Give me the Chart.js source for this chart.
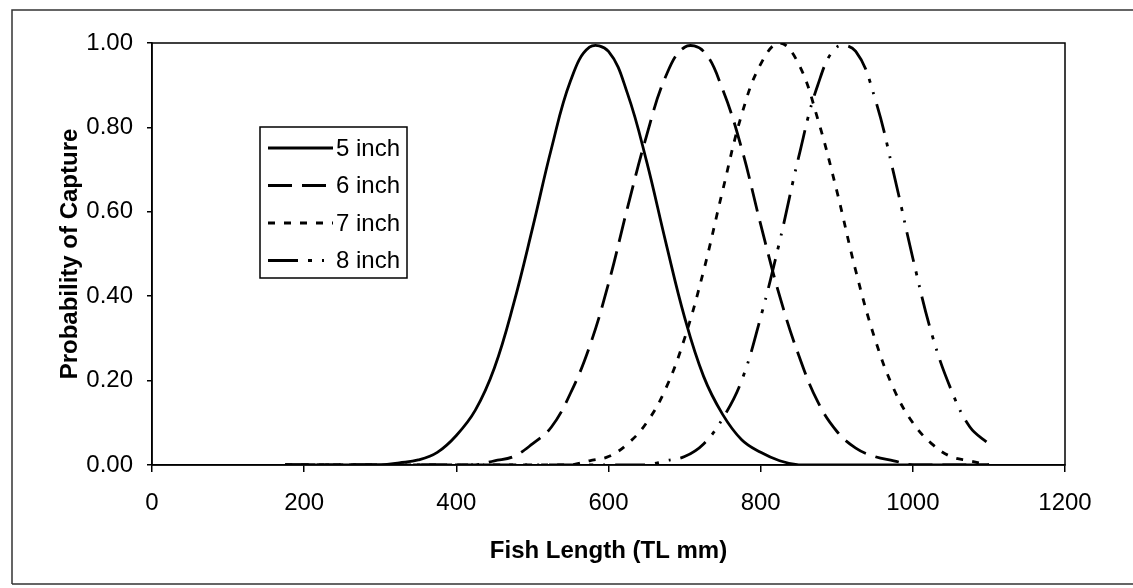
<!DOCTYPE html>
<html>
<head>
<meta charset="utf-8">
<script src="https://cdn.jsdelivr.net/npm/chart.js@4/dist/chart.umd.min.js"></script>
<style>
	body { margin: 0; background: #fff; }
	#wrap { width: 1133px; height: 588px; position: relative; }
</style>
</head>
<body>
<div id="wrap"><canvas id="chart"></canvas></div>
<script>
// fish length (TL mm), shared by all series
const lengths = [175,200,225,250,275,300,325,350,375,400,425,450,475,500,525,550,575,600,625,650,
	675,700,725,750,775,800,825,850,875,900,925,950,975,1000,1025,1050,1075,1100];

// probability of capture
const inch5 = [0,0,0,0,0,0,0.005,0.012,0.03,0.07,0.13,0.23,0.38,0.56,0.75,0.91,0.99,0.98,0.88,0.72,
	0.53,0.35,0.21,0.12,0.06,0.03,0.01,0,0,0,0,0,0,0,0,0,0,0];
const inch6 = [0,0,0,0,0,0,0,0,0,0,0,0.01,0.02,0.05,0.09,0.17,0.28,0.43,0.61,0.78,
	0.92,0.99,0.98,0.89,0.75,0.57,0.40,0.26,0.15,0.08,0.04,0.02,0.01,0,0,0,0,0];
const inch7 = [0,0,0,0,0,0,0,0,0,0,0,0,0,0,0,0,0.01,0.02,0.05,0.10,
	0.18,0.30,0.46,0.65,0.83,0.95,1.00,0.95,0.82,0.65,0.46,0.30,0.18,0.10,0.05,0.02,0.01,0];
const inch8 = [0,0,0,0,0,0,0,0,0,0,0,0,0,0,0,0,0,0,0,0,
	0.01,0.02,0.05,0.11,0.20,0.35,0.53,0.73,0.90,0.99,0.98,0.87,0.69,0.49,0.31,0.18,0.09,0.05];

const seriesNames = ['5 inch','6 inch','7 inch','8 inch'];
const seriesData = [inch5, inch6, inch7, inch8];
const seriesDash = [[], [24,10], [7,9], [30,10,4,10,2,10]];

const xTicks = [0,200,400,600,800,1000,1200];
const yTicks = [0,0.2,0.4,0.6,0.8,1.0];

const fontFam = '"Liberation Sans", Arial, Helvetica, sans-serif';

// build datasets
let datasets = [];
seriesNames.forEach(function(name, i) {
	datasets.push({
		label: name,
		data: lengths.map(function(x, j) { return {x: x, y: seriesData[i][j]}; }),
		borderColor: '#000',
		borderWidth: 2.8,
		borderDash: seriesDash[i],
		pointRadius: 0,
		fill: false,
		tension: 0.4
	});
});

// white page, frame, plot box and the boxed legend
const framePlugin = {
	id: 'frame',
	beforeDraw(chart) {
		let ctx = chart.ctx;
		ctx.save();
		ctx.fillStyle = '#fff';
		ctx.fillRect(0, 0, chart.width, chart.height);
		ctx.restore();
	},
	afterDraw(chart) {
		let ctx = chart.ctx;
		let a = chart.chartArea;
		ctx.save();
		// outer frame
		ctx.strokeStyle = '#333';
		ctx.lineWidth = 1.5;
		ctx.beginPath();
		ctx.moveTo(12, 584);
		ctx.lineTo(12, 10);
		ctx.lineTo(1133, 10);
		ctx.moveTo(12, 584);
		ctx.lineTo(1133, 584);
		ctx.stroke();
		// plot box
		ctx.strokeStyle = '#000';
		ctx.lineWidth = 1.5;
		ctx.strokeRect(a.left, a.top, a.right - a.left, a.bottom - a.top);

		// legend
		let lx = 260, ly = 127, lw = 147, lh = 151;
		ctx.fillStyle = '#fff';
		ctx.fillRect(lx, ly, lw, lh);
		ctx.strokeStyle = '#000';
		ctx.lineWidth = 1.5;
		ctx.strokeRect(lx, ly, lw, lh);
		ctx.font = '24px ' + fontFam;
		ctx.textBaseline = 'middle';
		ctx.textAlign = 'left';
		chart.data.datasets.forEach(function(ds, i) {
			let y = 148 + i * 37.5;
			ctx.setLineDash(ds.borderDash);
			ctx.lineWidth = ds.borderWidth;
			ctx.strokeStyle = ds.borderColor;
			ctx.beginPath();
			ctx.moveTo(268, y);
			ctx.lineTo(333, y);
			ctx.stroke();
			ctx.setLineDash([]);
			ctx.fillStyle = '#000';
			ctx.fillText(ds.label, 336, y + 1);
		});
		ctx.restore();
	}
};

new Chart(document.getElementById('chart'), {
	type: 'line',
	data: { datasets: datasets },
	plugins: [framePlugin],
	options: {
		responsive: true,
		maintainAspectRatio: false,
		animation: false,
		layout: { padding: { left: 0, top: 43, right: 68, bottom: 0 } },
		plugins: {
			legend: { display: false },
			tooltip: { enabled: false }
		},
		scales: {
			x: {
				type: 'linear',
				min: 0,
				max: 1200,
				afterBuildTicks: function(scale) {
					scale.ticks = xTicks.map(function(v) { return {value: v}; });
				},
				afterFit: function(scale) { scale.height = 123; },
				grid: { drawOnChartArea: false, drawTicks: true, tickLength: 7, color: '#000', lineWidth: 1.5 },
				border: { display: true, color: '#000', width: 1.5 },
				ticks: {
					color: '#000',
					padding: 17,
					maxRotation: 0,
					font: { family: fontFam, size: 24 },
					callback: function(v) { return String(v); }
				},
				title: {
					display: true,
					text: 'Fish Length (TL mm)',
					color: '#000',
					padding: { top: 0, bottom: 22 },
					font: { family: fontFam, size: 24, weight: 'bold' }
				}
			},
			y: {
				min: 0,
				max: 1,
				afterBuildTicks: function(scale) {
					scale.ticks = yTicks.map(function(v) { return {value: v}; });
				},
				afterFit: function(scale) { scale.width = 152; },
				grid: { drawOnChartArea: false, drawTicks: true, tickLength: 5, color: '#000', lineWidth: 1.5 },
				border: { display: true, color: '#000', width: 1.5 },
				ticks: {
					color: '#000',
					padding: 14,
					font: { family: fontFam, size: 24 },
					callback: function(v) { return v.toFixed(2); }
				},
				title: {
					display: true,
					text: 'Probability of Capture',
					color: '#000',
					padding: { top: 56, bottom: 0 },
					font: { family: fontFam, size: 24, weight: 'bold' }
				}
			}
		}
	}
});
</script>
</body>
</html>
